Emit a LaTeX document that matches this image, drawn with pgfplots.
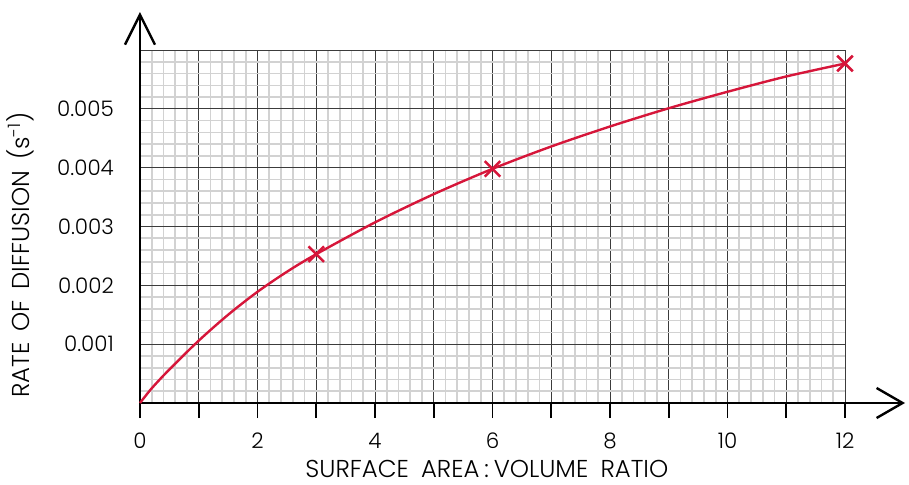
\documentclass[border=0pt]{standalone}
\usepackage{fontspec}
\setmainfont{Poppins}[UprightFont=* Light]
\usepackage{pgfplots}
\pgfplotsset{compat=1.18}
\usetikzlibrary{arrows.meta}

\definecolor{curvered}{RGB}{214,22,58}
\definecolor{majorgrid}{RGB}{60,60,60}
\definecolor{minorgrid}{RGB}{210,210,210}

\begin{document}
\fontsize{21}{25}\selectfont
\begin{tikzpicture}
  \useasboundingbox (-140bp,-82bp) rectangle (769bp,403bp);
  \begin{axis}[
      scale only axis,
      width=705bp, height=353bp,
      xmin=0, xmax=12, ymin=0, ymax=0.006,
      axis lines=left,
      x axis line style={line width=2.4bp, -{Straight Barb[length=26bp,width=30bp,line width=2.4bp]}, shorten >=-60bp},
      y axis line style={line width=2.4bp, -{Straight Barb[length=30bp,width=30bp,line width=2.4bp]}, shorten >=-38bp},
      xtick={0,1,...,12},
      xticklabels={0,,2,,4,,6,,8,,10,,12},
      ytick={0,0.001,0.002,0.003,0.004,0.005,0.006},
      yticklabels={,0.001,0.002,0.003,0.004,0.005,},
      scaled y ticks=false,
      /pgf/number format/assume math mode=true,
      minor x tick num=4, minor y tick num=4,
      tick align=outside,
      major tick length=15bp, minor tick length=0pt,
      xtick style={line width=1.6bp, black},
      ytick style={draw=none},
      grid=both,
      major grid style={majorgrid, line width=1bp},
      minor grid style={minorgrid, line width=1.6bp},
      ticklabel style={font=\fontsize{21.5}{25}\selectfont},
      xticklabel style={yshift=-8bp},
      yticklabel style={xshift=-4bp},
      xlabel={SURFACE\hspace{0.5em}AREA\hspace{0.2em}:\hspace{0.2em}VOLUME\hspace{0.5em}RATIO},
      ylabel={RATE\hspace{0.45em}OF\hspace{0.45em}DIFFUSION\hspace{0.45em}(s\textsuperscript{-1})},
      label style={font=\fontsize{24.5}{28}\selectfont, inner sep=1bp},
      xlabel style={at={(axis description cs:0.492,-0.186)}, anchor=center},
      ylabel style={at={(axis description cs:-0.169,0.419)}, anchor=center},
      clip=false,
    ]
    \addplot[curvered, line width=2.4bp, smooth] coordinates {
      (0,0) (0.2,0.00025) (0.5,0.00057) (1,0.00106) (1.5,0.0015) (2,0.00189)
      (2.5,0.00223) (3,0.00253) (4,0.00307) (5,0.00355) (6,0.00398) (7,0.00436)
      (8,0.0047) (9,0.00501) (10,0.00529) (11,0.00555) (12,0.00577)
    };
    \addplot[curvered, only marks, mark=x, mark size=11bp, mark options={line width=2.6bp}] coordinates {
      (3,0.00253) (6,0.00398) (12,0.00577)
    };
  \end{axis}
\end{tikzpicture}
\end{document}
